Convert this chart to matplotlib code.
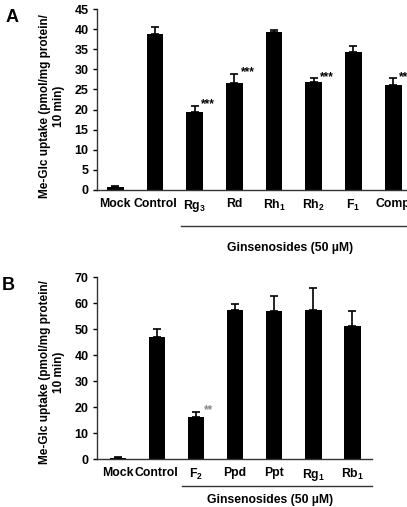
import numpy as np
import matplotlib
matplotlib.use("Agg")
import matplotlib.pyplot as plt

plt.rcParams['font.family'] = ['Liberation Sans', 'DejaVu Sans']
plt.rcParams['font.weight'] = 'bold'
plt.rcParams['mathtext.fontset'] = 'custom'
plt.rcParams['mathtext.rm'] = 'Liberation Sans:bold'
plt.rcParams['mathtext.default'] = 'rm'

# panel A
labels_a = ["Mock", "Control", r"Rg$_3$", "Rd", r"Rh$_1$", r"Rh$_2$", r"F$_1$", "Comp"]
values_a = [0.7, 38.8, 19.3, 26.6, 39.2, 26.9, 34.3, 26.1]
errors_a = [0.3, 1.8, 1.7, 2.3, 0.6, 0.9, 1.4, 1.7]
stars_a = ["", "", "***", "***", "", "***", "", "***"]

# panel B
labels_b = ["Mock", "Control", r"F$_2$", "Ppd", "Ppt", r"Rg$_1$", r"Rb$_1$"]
values_b = [0.5, 46.8, 16.0, 57.4, 57.1, 57.4, 51.2]
errors_b = [0.2, 3.1, 2.1, 2.2, 5.6, 8.5, 5.6]
stars_b = ["", "", "**", "", "", "", ""]

ylabel = "Me-Glc uptake (pmol/mg protein/\n10 min)"
group_label = "Ginsenosides (50 \u00b5M)"

W, H = 407, 507
fig = plt.figure(figsize=(W / 100, H / 100), dpi=100)


def panel(rect, labels, values, errors, stars, ymax, ystep, xlim, star_color, line_y, text_y):
    ax = fig.add_axes(rect)
    x = np.arange(len(values))
    ax.bar(x, values, width=0.42, color="black", zorder=2)
    ax.errorbar(x, values, yerr=[np.zeros(len(errors)), errors], fmt="none",
                ecolor="black", elinewidth=1.2, capsize=3, capthick=1.2, zorder=1)
    for xi, v, e, s in zip(x, values, errors, stars):
        if s:
            ax.text(xi + 0.33, v + e + 0.3 * ystep / 5, s, fontsize=8.5, color=star_color,
                    ha="center", va="center")
    ax.set_xlim(*xlim)
    ax.set_ylim(0, ymax)
    ax.set_yticks(np.arange(0, ymax + 0.1, ystep))
    ax.set_xticks(x)
    ax.set_xticklabels(labels, fontsize=8.8, fontweight="bold")
    ax.tick_params(axis="x", length=0, pad=6)
    ax.tick_params(axis="y", length=3, width=1, labelsize=9, pad=3)
    for lab in ax.get_yticklabels():
        lab.set_fontweight("bold")
    for sp in ["top", "right"]:
        ax.spines[sp].set_visible(False)
    ax.spines["left"].set_linewidth(1)
    ax.spines["bottom"].set_linewidth(1)
    ax.spines["left"].set_color("#333333")
    ax.spines["bottom"].set_color("#333333")

    # bracket line under the ginsenoside group
    trans = ax.get_xaxis_transform()
    ax.plot([1.65, len(values) - 0.5], [line_y, line_y], color="#333333", lw=1,
            transform=trans, clip_on=False)
    ax.text((2 + len(values) - 1) / 2 - 0.1, text_y, group_label, transform=trans,
            ha="center", va="center", fontsize=8.8, fontweight="bold")
    return ax


# panel A extends past the right edge of the figure
ax_a = panel([97 / W, 1 - 190 / H, 318 / W, 181 / H], labels_a, values_a, errors_a, stars_a,
             45, 5, (-0.46, 7.55), "black", -0.2, -0.32)
ax_b = panel([97 / W, 1 - 459 / H, 275 / W, 182 / H], labels_b, values_b, errors_b, stars_b,
             70, 10, (-0.53, 6.5), "#888888", -0.148, -0.225)

fig.text(52 / W, 1 - 106 / H, ylabel, rotation=90, ha="center", va="center",
         fontsize=8.5, fontweight="bold", multialignment="center")
fig.text(52 / W, 1 - 372 / H, ylabel, rotation=90, ha="center", va="center",
         fontsize=8.5, fontweight="bold", multialignment="center")

fig.text(12 / W, 1 - 17 / H, "A", fontsize=13, fontweight="bold", ha="center", va="center")
fig.text(8 / W, 1 - 286 / H, "B", fontsize=13, fontweight="bold", ha="center", va="center")

fig.savefig("out.png", dpi=100)
